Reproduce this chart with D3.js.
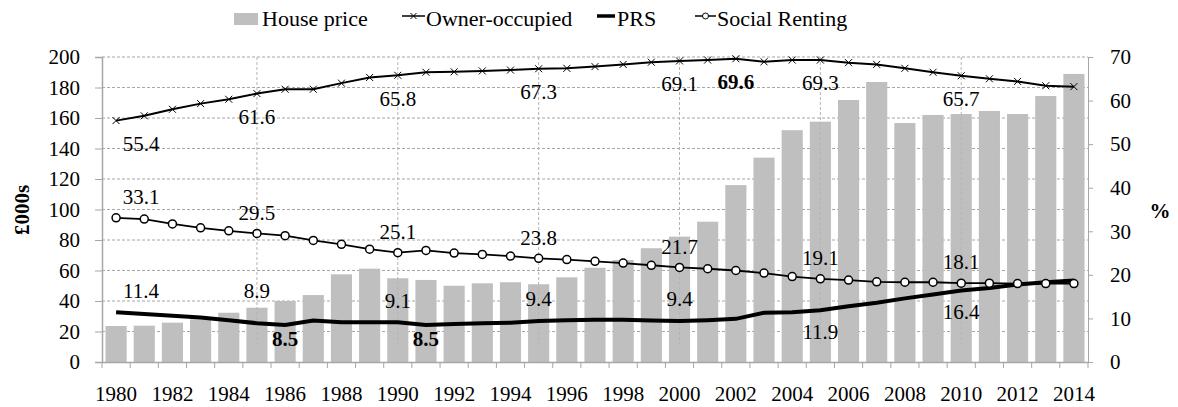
<!DOCTYPE html>
<html>
<head>
<meta charset="utf-8">
<script src="https://cdn.jsdelivr.net/npm/d3@7"></script>
<style>
  body { margin: 0; background: #fff; }
  svg, svg text { font-family: "Liberation Serif", "Times New Roman", Tinos, "DejaVu Serif", serif !important; }
  .tick text { font-size: 21px; fill: #000; }
  .data-label { font-size: 21px; fill: #000; }
</style>
</head>
<body>
<div id="chart"></div>
<script>
// years on the category axis
const years = d3.range(1980, 2015);

// average house price, £000s (left axis)
const housePrice = [23.6, 23.8, 25.8, 28.0, 32.3, 35.6, 40.0, 43.9, 57.5, 61.2,
  54.9, 53.8, 50.0, 51.6, 52.3, 51.0, 55.5, 61.8, 66.9, 74.6,
  82.2, 92.0, 116.0, 134.0, 152.0, 157.6, 171.8, 183.6, 156.7, 162.0,
  162.6, 164.6, 162.6, 174.4, 188.9];

// tenure shares, % of households (right axis)
const ownerOccupied = [55.4, 56.5, 58.0, 59.3, 60.3, 61.6, 62.6, 62.6, 64.0, 65.3,
  65.8, 66.5, 66.6, 66.8, 67.0, 67.3, 67.4, 67.8, 68.3, 68.8,
  69.1, 69.3, 69.6, 68.9, 69.3, 69.3, 68.7, 68.3, 67.4, 66.5,
  65.7, 65.0, 64.4, 63.4, 63.2];

const prs = [11.4, 11.0, 10.6, 10.2, 9.6, 8.9, 8.5, 9.5, 9.1, 9.1,
  9.1, 8.5, 8.7, 8.9, 9.0, 9.4, 9.6, 9.7, 9.7, 9.5,
  9.4, 9.6, 9.9, 11.3, 11.4, 11.9, 12.8, 13.6, 14.6, 15.5,
  16.4, 17.0, 17.8, 18.3, 18.7];

const socialRenting = [33.1, 32.8, 31.7, 30.8, 30.1, 29.5, 29.0, 27.9, 27.0, 25.9,
  25.1, 25.6, 25.0, 24.7, 24.3, 23.8, 23.5, 23.1, 22.7, 22.2,
  21.7, 21.4, 21.0, 20.4, 19.6, 19.1, 18.8, 18.4, 18.3, 18.3,
  18.1, 18.1, 18.0, 18.0, 18.0];

// which points carry a value label
const ownerLabelYears = [1980, 1985, 1990, 1995, 2000, 2002, 2005, 2010];
const socialLabelYears = [1980, 1985, 1990, 1995, 2000, 2005, 2010];
const prsLabelYears = [1980, 1985, 1986, 1990, 1991, 1995, 2000, 2005, 2010];
// highlighted (bold) labels: peak owner-occupation and PRS low points
const boldLabels = { owner: [2002], prs: [1986, 1991] };

const leftTicks = d3.range(0, 201, 20);
const rightTicks = d3.range(0, 71, 10);
const yearTicks = years.filter(y => y % 2 === 0);
const gridYears = [1985, 1990, 1995, 2000, 2005, 2010];

const width = 1178, height = 407;
const plot = { left: 102, right: 1088, top: 57, bottom: 362 };
const serif = "'Liberation Serif', 'Times New Roman', Tinos, 'DejaVu Serif', serif";

const svg = d3.select("#chart").append("svg")
  .attr("width", width)
  .attr("height", height)
  .attr("font-family", serif);

const x = d3.scaleBand()
  .domain(years)
  .range([plot.left, plot.right])
  .paddingInner(0.25)
  .paddingOuter(0.125);

const step = x.step();
const cx = y => x(y) + x.bandwidth() / 2;

const yL = d3.scaleLinear().domain([0, 200]).range([plot.bottom, plot.top]);
const yR = d3.scaleLinear().domain([0, 70]).range([plot.bottom, plot.top]);

// horizontal gridlines
svg.append("g")
  .selectAll("line")
  .data(leftTicks.filter(d => d > 0))
  .join("line")
  .attr("x1", plot.left).attr("x2", plot.right)
  .attr("y1", d => yL(d)).attr("y2", d => yL(d))
  .attr("stroke", "#a6a6a6")
  .attr("stroke-width", 1)
  .attr("stroke-dasharray", "3,2");

// bars
svg.append("g")
  .selectAll("rect")
  .data(years)
  .join("rect")
  .attr("x", d => x(d))
  .attr("width", x.bandwidth())
  .attr("y", (d, i) => yL(housePrice[i]))
  .attr("height", (d, i) => yL(0) - yL(housePrice[i]))
  .attr("fill", "#bfbfbf");

// vertical dashed markers every five years
svg.append("g")
  .selectAll("line")
  .data(gridYears)
  .join("line")
  .attr("x1", d => cx(d)).attr("x2", d => cx(d))
  .attr("y1", plot.top).attr("y2", yL(11))
  .attr("stroke", "#b4b4b4")
  .attr("stroke-width", 1)
  .attr("stroke-dasharray", "3,2");

// axes
const leftAxis = svg.append("g")
  .attr("transform", `translate(${plot.left},0)`)
  .call(d3.axisLeft(yL).tickValues(leftTicks).tickSize(7).tickPadding(15));
const rightAxis = svg.append("g")
  .attr("transform", `translate(${plot.right},0)`)
  .call(d3.axisRight(yR).tickValues(rightTicks).tickSize(5).tickPadding(17));
const bottomAxis = svg.append("g")
  .attr("transform", `translate(0,${plot.bottom})`)
  .call(d3.axisBottom(x).tickValues(yearTicks).tickSize(0).tickPadding(24));

[leftAxis, rightAxis, bottomAxis].forEach(g => {
  g.attr("font-family", serif).attr("font-size", 21);
  g.selectAll(".domain").attr("stroke", "#a6a6a6").attr("stroke-width", 1.5);
  g.selectAll(".tick line").attr("stroke", "#a6a6a6");
});
rightAxis.select(".domain").attr("stroke-width", 1);

// category tick marks on the band edges
svg.append("g")
  .selectAll("line")
  .data(d3.range(years.length + 1))
  .join("line")
  .attr("x1", i => plot.left + i * step).attr("x2", i => plot.left + i * step)
  .attr("y1", plot.bottom).attr("y2", plot.bottom + 6)
  .attr("stroke", "#a6a6a6");

// lines
const seriesLine = vals => d3.line()
  .x((d, i) => cx(years[i]))
  .y(d => yR(d))(vals);

svg.append("path")
  .attr("d", seriesLine(socialRenting))
  .attr("fill", "none").attr("stroke", "#000").attr("stroke-width", 1.8);

svg.append("path")
  .attr("d", seriesLine(prs))
  .attr("fill", "none").attr("stroke", "#000").attr("stroke-width", 4);

svg.append("path")
  .attr("d", seriesLine(ownerOccupied))
  .attr("fill", "none").attr("stroke", "#000").attr("stroke-width", 2);

// markers
const crossPath = s => `M${-s},${-s}L${s},${s}M${-s},${s}L${s},${-s}`;

svg.append("g")
  .selectAll("path")
  .data(years)
  .join("path")
  .attr("transform", (d, i) => `translate(${cx(d)},${yR(ownerOccupied[i])})`)
  .attr("d", crossPath(3.5))
  .attr("stroke", "#000").attr("stroke-width", 1).attr("fill", "none");

svg.append("g")
  .selectAll("circle")
  .data(years)
  .join("circle")
  .attr("cx", d => cx(d))
  .attr("cy", (d, i) => yR(socialRenting[i]))
  .attr("r", 4)
  .attr("fill", "#fff").attr("stroke", "#000").attr("stroke-width", 1.5);

// value labels
const labels = svg.append("g").attr("class", "labels");
function addLabels(yearsList, values, place, bold) {
  yearsList.forEach(yr => {
    const i = years.indexOf(yr);
    const v = values[i];
    const p = place(yr);
    labels.append("text")
      .attr("class", "data-label")
      .attr("x", cx(yr) + (yr === 1980 ? 25 : 0))
      .attr("y", yR(v) + p)
      .attr("dy", "0.35em")
      .attr("text-anchor", "middle")
      .style("font-weight", bold.includes(yr) ? "bold" : "normal")
      .text(d3.format(".1f")(v));
  });
}
addLabels(ownerLabelYears, ownerOccupied, () => 23, boldLabels.owner);
addLabels(socialLabelYears, socialRenting, () => -21, []);
addLabels(prsLabelYears, prs, yr => {
  if (yr === 1985) return -33;
  if (yr === 1986 || yr === 1991) return 14;
  if (yr >= 2005) return 21;
  return -22;
}, boldLabels.prs);

// axis titles
svg.append("text")
  .attr("transform", "translate(22,210) rotate(-90)")
  .attr("text-anchor", "middle")
  .attr("dy", "0.35em")
  .style("font-size", "21px").style("font-weight", "bold")
  .text("£000s");

svg.append("text")
  .attr("x", 1160).attr("y", 211)
  .attr("text-anchor", "middle")
  .attr("dy", "0.35em")
  .style("font-size", "21px").style("font-weight", "bold")
  .text("%");

// legend
const legend = svg.append("g").attr("class", "legend");
const legendY = 16;

legend.append("rect")
  .attr("x", 234).attr("y", 13).attr("width", 24).attr("height", 12)
  .attr("fill", "#bfbfbf");
legend.append("text").attr("x", 262).attr("y", 26).style("font-size", "22px").text("House price");

legend.append("line")
  .attr("x1", 402).attr("x2", 425).attr("y1", legendY).attr("y2", legendY)
  .attr("stroke", "#000").attr("stroke-width", 1.5);
legend.append("path")
  .attr("transform", `translate(413.5,${legendY})`)
  .attr("d", crossPath(3)).attr("stroke", "#000").attr("stroke-width", 1);
legend.append("text").attr("x", 426).attr("y", 26).style("font-size", "22px").text("Owner-occupied");

legend.append("line")
  .attr("x1", 597).attr("x2", 615).attr("y1", legendY).attr("y2", legendY)
  .attr("stroke", "#000").attr("stroke-width", 3.5);
legend.append("text").attr("x", 617).attr("y", 26).style("font-size", "22px").text("PRS");

legend.append("line")
  .attr("x1", 695).attr("x2", 716).attr("y1", legendY).attr("y2", legendY)
  .attr("stroke", "#000").attr("stroke-width", 1.5);
legend.append("circle")
  .attr("cx", 705.5).attr("cy", legendY).attr("r", 3)
  .attr("fill", "#fff").attr("stroke", "#000").attr("stroke-width", 1);
legend.append("text").attr("x", 717).attr("y", 26).style("font-size", "22px").text("Social Renting");
</script>
</body>
</html>
